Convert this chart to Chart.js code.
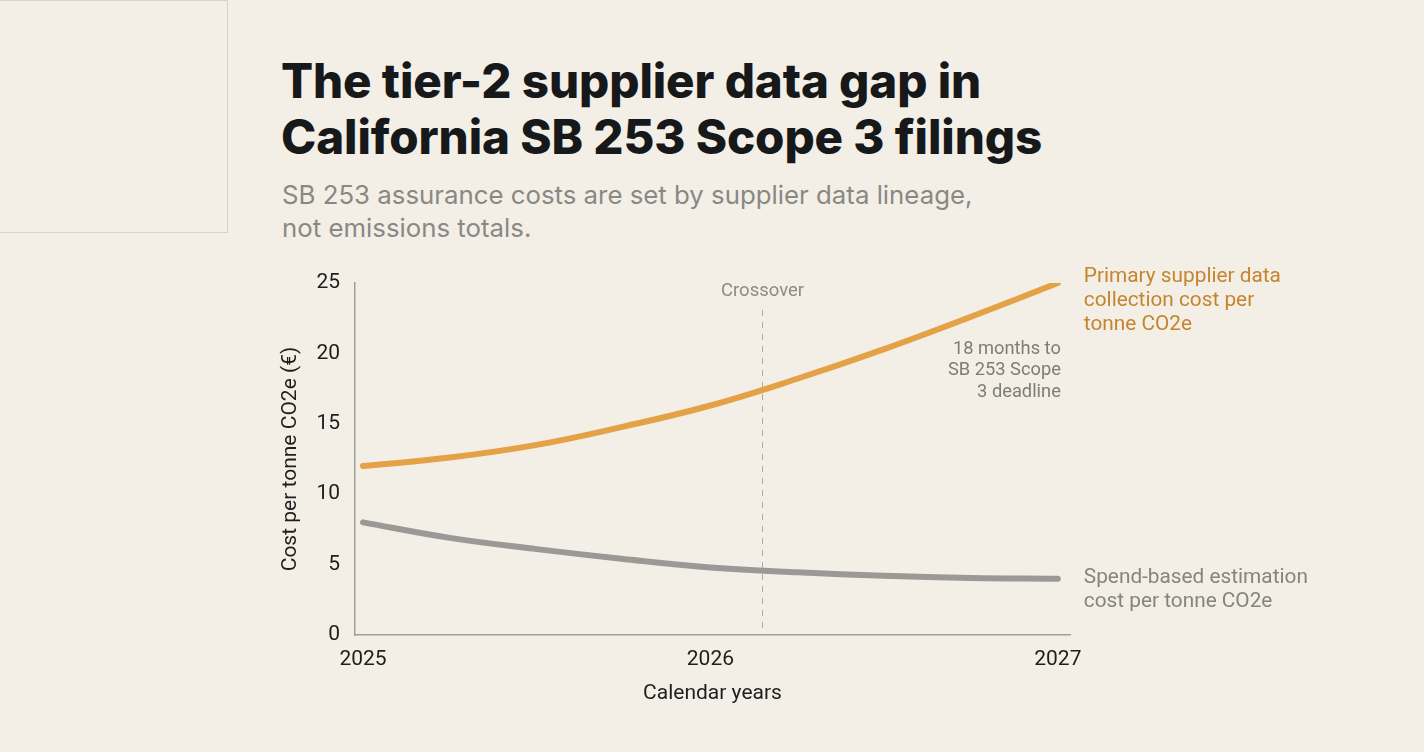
<!DOCTYPE html>
<html>
<head>
<meta charset="utf-8">
<script src="https://cdn.jsdelivr.net/npm/chart.js@4.4.1/dist/chart.umd.min.js"></script>
<style>
  html, body { margin:0; padding:0; background:#F3EFE6; width:1424px; height:752px; overflow:hidden; }
  #box { position:absolute; left:-1px; top:0px; width:227px; height:231px; border:1px solid #D6D2C8; }
  #title { position:absolute; left:281px; top:53px; font-family:Inter, sans-serif; font-weight:800; font-size:47.5px; line-height:56px; color:#16181A; letter-spacing:-0.1px; margin:0; }
  #sub { position:absolute; left:282px; top:178px; font-family:Inter, sans-serif; font-weight:400; font-size:25.8px; line-height:33px; color:#8A8884; margin:0; }
  #wrap { position:absolute; left:0; top:0; width:1424px; height:752px; }
</style>
</head>
<body>
<div id="box"></div>
<h1 id="title">The tier-2 supplier data gap in<br>California SB 253 Scope 3 filings</h1>
<p id="sub">SB 253 assurance costs are set by supplier data lineage,<br>not emissions totals.</p>
<div id="wrap"><canvas id="c" width="1424" height="752"></canvas></div>
<script>
// Quarterly points, 2025.00 .. 2027.00
const years = [2025, 2025.25, 2025.5, 2025.75, 2026, 2026.25, 2026.5, 2026.75, 2027];
const primaryCost = [12.0, 12.6, 13.5, 14.8, 16.3, 18.2, 20.3, 22.6, 25.0];
const spendCost = [8.0, 6.9, 6.1, 5.4, 4.8, 4.45, 4.2, 4.05, 4.0];
const xTicks = [2025, 2026, 2027];
const yTicks = [0, 5, 10, 15, 20, 25];
const crossoverYear = 2026.15;
const primaryLabel = ["Primary supplier data", "collection cost per", "tonne CO2e"];
const spendLabel = ["Spend-based estimation", "cost per tonne CO2e"];
const deadlineNote = ["18 months to", "SB 253 Scope", "3 deadline"];

const ORANGE = '#E4A146';
const GREY = '#9A9996';

const annot = {
  id: 'annot',
  afterDatasetsDraw(chart) {
    const {ctx, scales:{x, y}, chartArea} = chart;
    ctx.save();
    const cx = x.getPixelForValue(crossoverYear);
    ctx.strokeStyle = '#ABA9A4';
    ctx.lineWidth = 1;
    ctx.setLineDash([6, 6]);
    ctx.beginPath();
    ctx.moveTo(cx, chartArea.top + 27);
    ctx.lineTo(cx, chartArea.bottom);
    ctx.stroke();
    ctx.setLineDash([]);
    ctx.font = '18.5px Roboto, sans-serif';
    ctx.fillStyle = '#8C8A86';
    ctx.textAlign = 'center';
    ctx.textBaseline = 'middle';
    ctx.fillText('Crossover', cx, chartArea.top + 8);
    ctx.textAlign = 'right';
    ctx.fillStyle = '#7E7C78';
    ctx.font = '18.3px Roboto, sans-serif';
    const nx = x.getPixelForValue(2027) + 3;
    const ny = y.getPixelForValue(primaryCost[primaryCost.length-1]) + 66;
    deadlineNote.forEach((t, i) => ctx.fillText(t, nx, ny + i * 21.5));
    ctx.textAlign = 'left';
    ctx.font = '20.8px Roboto, sans-serif';
    const lx = x.getPixelForValue(2027) + 26;
    ctx.fillStyle = '#C4852E';
    let py = y.getPixelForValue(primaryCost[primaryCost.length-1]) - 6;
    primaryLabel.forEach((t, i) => ctx.fillText(t, lx, py + i * 24));
    ctx.fillStyle = '#858480';
    let sy = y.getPixelForValue(spendCost[spendCost.length-1]) - 1;
    spendLabel.forEach((t, i) => ctx.fillText(t, lx, sy + i * 24));
    ctx.restore();
  }
};

new Chart(document.getElementById('c'), {
  type: 'line',
  data: {
    datasets: [
      { label: primaryLabel.join(' '), data: years.map((v, i) => ({x: v, y: primaryCost[i]})),
        borderColor: ORANGE, borderWidth: 6, pointRadius: 0, tension: 0.4, borderCapStyle: 'round' },
      { label: spendLabel.join(' '), data: years.map((v, i) => ({x: v, y: spendCost[i]})),
        borderColor: GREY, borderWidth: 6, pointRadius: 0, tension: 0.4, borderCapStyle: 'round' }
    ]
  },
  options: {
    responsive: false,
    animation: false,
    devicePixelRatio: 1,
    layout: { padding: { left: 274, right: 354, top: 283, bottom: 42 } },
    plugins: { legend: { display: false }, tooltip: { enabled: false } },
    scales: {
      x: {
        type: 'linear', min: 2024.977, max: 2027.035,
        afterBuildTicks: (s) => { s.ticks = xTicks.map(v => ({value: v})); },
        afterFit: (s) => { s.height = 75; },
        grid: { display: false, drawTicks: false },
        border: { color: '#A19F9A', width: 1.5 },
        ticks: { padding: 12, color: '#1E1E1E', font: { family: 'Roboto, sans-serif', size: 21 }, callback: v => String(v) },
        title: { display: true, text: 'Calendar years', color: '#1E1E1E', font: { family: 'Roboto, sans-serif', size: 21 } }
      },
      y: {
        min: 0, max: 25,
        afterBuildTicks: (s) => { s.ticks = yTicks.map(v => ({value: v})); },
        afterFit: (s) => { s.width = 81; },
        grid: { display: false, drawTicks: false },
        border: { color: '#A19F9A', width: 1.5 },
        ticks: { padding: 15, color: '#1E1E1E', font: { family: 'Roboto, sans-serif', size: 21 } },
        title: { display: true, text: 'Cost per tonne CO2e (€)', color: '#1E1E1E', font: { family: 'Roboto, sans-serif', size: 21 } }
      }
    }
  },
  plugins: [annot]
});
</script>
</body>
</html>
